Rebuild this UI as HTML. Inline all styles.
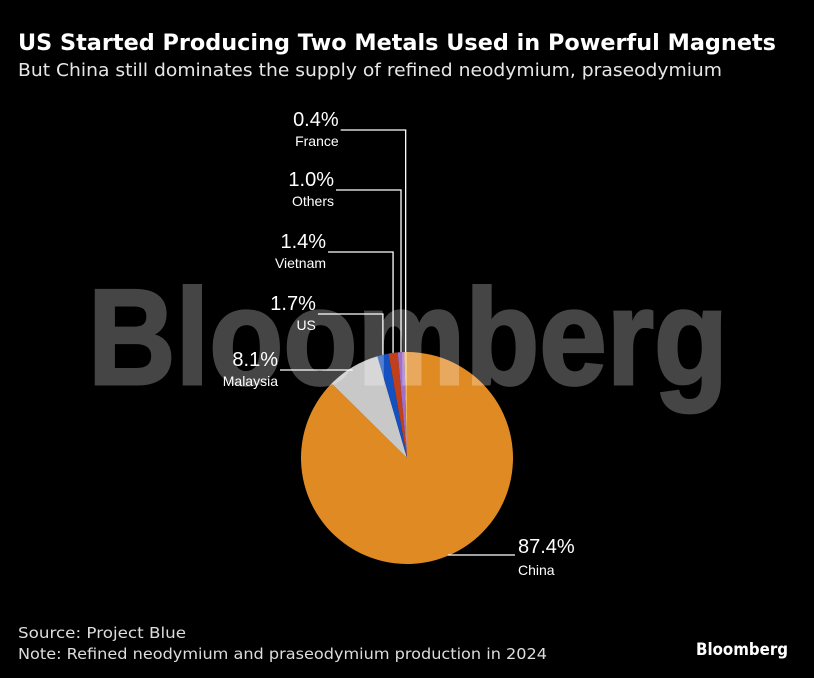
<!DOCTYPE html>
<html><head><meta charset="utf-8"><style>
body{margin:0;background:#000;width:814px;height:678px;overflow:hidden;font-family:"DejaVu Sans","Liberation Sans",sans-serif;color:#fff}
</style></head><body>
<svg id="c" width="814" height="678" style="position:absolute;left:0;top:0">
<text x="18" y="50" fill="#fff" font-size="22" font-weight="bold" textLength="758" lengthAdjust="spacingAndGlyphs">US Started Producing Two Metals Used in Powerful Magnets</text>
<text x="18" y="76" fill="#e6e6e6" font-size="18" textLength="704" lengthAdjust="spacingAndGlyphs">But China still dominates the supply of refined neodymium, praseodymium</text>
<text x="18" y="638" fill="#ddd" font-size="15" textLength="168" lengthAdjust="spacingAndGlyphs">Source: Project Blue</text>
<text x="18" y="659" fill="#ddd" font-size="15" textLength="529" lengthAdjust="spacingAndGlyphs">Note: Refined neodymium and praseodymium production in 2024</text>
<text x="696" y="655" fill="#fff" font-size="17" font-weight="bold" textLength="92" lengthAdjust="spacingAndGlyphs">Bloomberg</text>
</svg>
<script>
const categories=["China","Malaysia","US","Vietnam","Others","France"];
const values=[87.4,8.1,1.7,1.4,1.0,0.4];
const labels=["87.4%","8.1%","1.7%","1.4%","1.0%","0.4%"];
const colors=["#e08a24","#c8c8c8","#1450c0","#c0401e","#a070c8","#f2b65a"];
const labelY=[555,370,314,252,190,130];
const svg=document.getElementById('c');const NS="http://www.w3.org/2000/svg";
const cx=407,cy=458,r=106;
function mk(t,a,parent){const e=document.createElementNS(NS,t);for(const k in a)e.setAttribute(k,a[k]);(parent||svg).appendChild(e);return e;}
const tot=values.reduce((a,b)=>a+b,0);
function pt(deg,rr){const a=deg*Math.PI/180;return[cx+rr*Math.sin(a),cy-rr*Math.cos(a)];}
let acc=0;
values.forEach((v,i)=>{
 const a0=acc/tot*360,a1=(acc+v)/tot*360;acc+=v;
 const p0=pt(a0,r),p1=pt(a1,r);
 const p=mk('path',{d:`M${cx},${cy}L${p0[0]},${p0[1]}A${r},${r} 0 ${a1-a0>180?1:0} 1 ${p1[0]},${p1[1]}Z`,fill:colors[i]});
 
 
 const m=pt((a0+a1)/2,r);const ly=labelY[i];
 let lx,d;
 if(i===0){lx=515;d=`M${m[0]},${ly}H${lx}`;}
 else if(i===1){lx=280;d=`M${m[0]},${ly}H${lx}`;}
 else{lx=m[0]-65;d=`M${m[0]},${m[1]}V${ly}H${lx}`;}
 const l=mk('path',{d:d,stroke:'#fff','stroke-width':1.3,fill:'none'});
 
 
 const right=i!==0;const tx=right?lx-2:lx+3;
 const t1=mk('text',{x:tx,y:ly-(i===0?2:4),fill:'#fff','font-size':20,'font-family':'Liberation Sans, sans-serif','text-anchor':right?'end':'start'});
 t1.textContent=labels[i];
 
 
 const t2=mk('text',{x:tx,y:ly+(i===0?20:16),fill:'#fff','font-size':14,'font-family':'Liberation Sans, sans-serif','text-anchor':right?'end':'start'});
 t2.textContent=categories[i];
 
 
});
const g=mk('g',{opacity:0.27});
const w=mk('text',{x:408,y:384,fill:'#fff',stroke:'#fff','stroke-width':3,'font-size':136,'font-weight':'bold','font-family':'Liberation Sans, sans-serif','text-anchor':'middle','textLength':640,'lengthAdjust':'spacingAndGlyphs'},g);
w.textContent="Bloomberg";


</script>
</body></html>
